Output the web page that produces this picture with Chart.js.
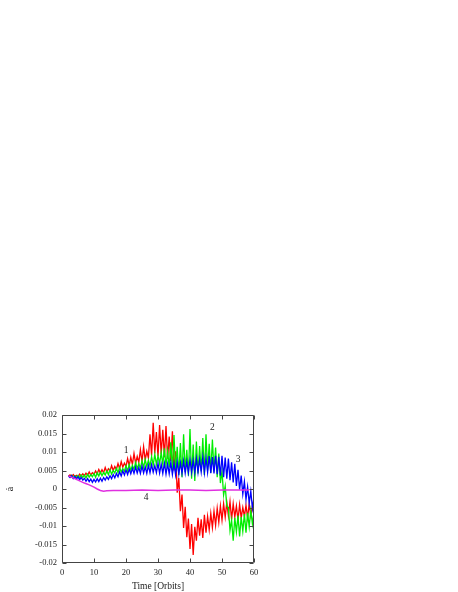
<!DOCTYPE html>
<html>
<head>
<meta charset="utf-8">
<script src="https://cdn.jsdelivr.net/npm/chart.js@4"></script>
<style>
  html, body { margin: 0; padding: 0; background: #fff; }
  #chart { display: block; }
</style>
</head>
<body>
<canvas id="chart" width="458" height="592"></canvas>
<script>
// time in orbits (shared by the three noisy runs)
const times = [
  2,2.5,3,3.5,4,4.5,5,5.5,6,6.5,
  7,7.5,8,8.5,9,9.5,10,10.5,11,11.5,
  12,12.5,13,13.5,14,14.5,15,15.5,16,16.5,
  17,17.5,18,18.5,19,19.5,20,20.5,21,21.5,
  22,22.5,23,23.5,24,24.5,25,25.5,26,26.5,
  27,27.5,28,28.5,29,29.5,30,30.5,31,31.5,
  32,32.5,33,33.5,34,34.5,35,35.5,36,36.5,
  37,37.5,38,38.5,39,39.5,40,40.5,41,41.5,
  42,42.5,43,43.5,44,44.5,45,45.5,46,46.5,
  47,47.5,48,48.5,49,49.5,50,50.5,51,51.5,
  52,52.5,53,53.5,54,54.5,55,55.5,56,56.5,
  57,57.5,58,58.5,59,59.5,60
];

// a-dot values, in units of 1e-3
const run1 = [
  3.5,3.8,3.3,3.9,3.4,3.7,3.2,4.0,3.5,4.1,
  3.6,4.3,3.7,4.6,3.8,4.4,4.0,4.9,4.1,5.3,
  4.3,5.2,4.4,5.8,4.6,5.5,4.9,6.3,5.0,6.1,
  5.3,6.9,5.5,7.4,5.9,7.0,6.1,8.2,6.3,8.6,
  6.6,9.6,6.9,8.8,7.2,10.6,7.4,11.4,7.8,10.2,
  8.4,14.8,9.0,17.9,9.6,15.4,8.8,17.3,9.4,16.0,
  8.6,17.0,8.2,14.2,7.6,15.6,5.0,10.2,-1.0,3.0,
  -6.0,-1.5,-10.5,-4.8,-13.0,-8.0,-16.2,-9.5,-17.8,-10.2,
  -14.0,-7.8,-12.6,-8.2,-13.2,-7.0,-11.8,-7.4,-11.0,-6.6,
  -10.4,-6.0,-9.8,-5.2,-9.0,-4.6,-8.4,-4.0,-7.6,-3.6,
  -7.2,-3.4,-8.2,-4.0,-7.6,-4.6,-8.4,-4.2,-7.8,-5.0,
  -7.4,-4.4,-7.8,-4.0,-7.2,-4.6,-6.6
];
const run2 = [
  3.5,3.2,3.7,3.0,3.6,3.1,3.7,3.0,3.8,3.1,
  3.8,3.0,4.0,3.2,3.9,3.3,4.2,3.2,4.4,3.5,
  4.6,3.6,4.5,3.8,4.9,3.9,5.2,4.0,5.0,4.3,
  5.6,4.4,5.8,4.6,5.5,4.8,6.3,4.9,6.6,5.0,
  6.4,5.3,7.2,5.4,6.9,5.6,7.7,5.8,8.0,6.0,
  7.8,6.2,8.8,6.4,9.4,6.6,9.0,6.8,9.9,6.6,
  11.0,6.3,10.2,5.8,12.6,5.2,14.6,4.6,11.4,3.8,
  12.4,3.2,14.8,4.6,10.6,3.6,16.2,2.8,12.0,2.2,
  12.8,4.2,11.6,4.8,13.8,3.8,14.8,5.0,12.2,4.4,
  13.4,4.8,11.2,3.2,9.6,1.6,4.8,-1.6,0.8,-4.6,
  -5.0,-11.2,-8.4,-14.0,-7.8,-11.6,-7.2,-12.8,-7.6,-11.4,
  -6.8,-11.8,-6.4,-10.2,-5.8,-9.4,-6.2
];
const run3 = [
  3.5,3.1,3.6,2.8,3.4,2.7,3.3,2.5,3.1,2.4,
  2.9,2.1,2.8,2.0,2.7,1.8,2.6,1.9,2.8,2.0,
  2.9,2.1,3.1,2.4,3.3,2.6,3.6,2.8,3.9,3.0,
  4.2,3.3,4.6,3.5,4.9,3.8,5.2,3.9,5.4,4.1,
  5.6,4.2,5.9,4.3,5.8,4.2,6.2,4.3,6.0,4.2,
  6.4,4.4,6.6,4.5,6.3,4.4,6.9,4.3,6.7,4.2,
  7.0,4.0,6.8,4.1,7.2,3.9,6.9,3.8,7.3,4.0,
  7.1,4.2,7.6,4.3,7.4,4.4,7.9,4.5,7.7,4.4,
  8.2,4.5,8.0,4.6,8.6,4.4,8.4,4.5,8.9,4.3,
  8.6,4.2,9.0,4.0,8.7,3.6,9.0,3.2,8.5,2.8,
  8.2,2.4,7.2,1.8,6.8,0.8,5.2,-0.2,3.6,-1.4,
  2.0,-2.8,0.6,-3.8,-0.6,-5.2,-2.2
];
// run 4 is smooth, sampled more sparsely
const run4Times = [2,3,4,5,6,7,8,9,10,11,12,13,14,16,20,25,30,35,40,45,50,55,58.5];
const run4 = [3.5,3.2,2.8,2.4,2.0,1.6,1.3,0.9,0.5,0.0,-0.4,-0.6,-0.5,-0.4,-0.4,-0.3,-0.4,-0.3,-0.3,-0.4,-0.3,-0.3,-0.3];

const xTicks = [0, 10, 20, 30, 40, 50, 60];
const yTicks = [-0.02, -0.015, -0.01, -0.005, 0, 0.005, 0.01, 0.015, 0.02];

// curve numbers written on the plot
const curveLabels = ['1', '2', '3', '4'];
const labelTimes = [20, 47, 55, 26.3];
const labelValues = [10.5, 16.5, 8.1, -2.4];

const MILLI = 1e-3;
const serif = "'Liberation Serif', 'DejaVu Serif', serif";

function pts(ts, vs) {
  return ts.map((t, i) => ({ x: t, y: vs[i] * MILLI }));
}

function line(label, data, color, order, width) {
  return {
    label: label,
    data: data,
    borderColor: color,
    borderWidth: width,
    pointRadius: 0,
    tension: 0,
    fill: false,
    order: order,
  };
}

// gnuplot-style box with inward ticks on all four sides
const frame = {
  id: 'frame',
  afterDatasetsDraw(chart) {
    const { ctx, chartArea: a, scales } = chart;
    const L = Math.round(a.left) + 0.5, R = Math.round(a.right) - 0.5;
    const T = Math.round(a.top) + 0.5, B = Math.round(a.bottom) - 0.5;
    ctx.save();
    ctx.strokeStyle = '#444';
    ctx.lineWidth = 1;
    ctx.beginPath();
    ctx.rect(L, T, R - L, B - T);
    xTicks.forEach(v => {
      const x = Math.round(scales.x.getPixelForValue(v)) + 0.5;
      ctx.moveTo(x, B); ctx.lineTo(x, B - 4);
      ctx.moveTo(x, T); ctx.lineTo(x, T + 4);
    });
    yTicks.forEach(v => {
      const y = Math.round(scales.y.getPixelForValue(v)) + 0.5;
      ctx.moveTo(L, y); ctx.lineTo(L + 4, y);
      ctx.moveTo(R, y); ctx.lineTo(R - 4, y);
    });
    ctx.stroke();

    ctx.fillStyle = '#222';
    ctx.font = '9.5px ' + serif;
    ctx.textAlign = 'center';
    ctx.textBaseline = 'middle';
    curveLabels.forEach((s, i) => {
      ctx.fillText(s, scales.x.getPixelForValue(labelTimes[i]),
        scales.y.getPixelForValue(labelValues[i] * MILLI));
    });
    ctx.restore();
  }
};

new Chart(document.getElementById('chart'), {
  type: 'line',
  data: {
    datasets: [
      line('1', pts(times, run1), '#ff0000', 4, 1.3),
      line('2', pts(times, run2), '#00ee00', 3, 1.3),
      line('3', pts(times, run3), '#0000ff', 2, 1.3),
      line('4', pts(run4Times, run4), '#e030e0', 1, 1.5),
    ],
  },
  options: {
    responsive: false,
    animation: false,
    events: [],
    layout: { padding: { top: 415, right: 204, bottom: 0, left: 0 } },
    plugins: { legend: { display: false }, tooltip: { enabled: false } },
    scales: {
      x: {
        type: 'linear',
        min: 0,
        max: 60,
        afterBuildTicks: s => { s.ticks = xTicks.map(v => ({ value: v })); },
        afterFit: s => { s.height = 29; },
        grid: { display: false, drawTicks: false },
        border: { display: false },
        ticks: { color: '#222', font: { family: serif, size: 8.5 }, padding: 5, maxRotation: 0 },
        title: { display: true, text: 'Time [Orbits]', color: '#222',
                 font: { family: serif, size: 9.5 }, padding: { top: 0, bottom: 0 } },
      },
      y: {
        min: -0.02,
        max: 0.02,
        afterBuildTicks: s => { s.ticks = yTicks.map(v => ({ value: v })); },
        afterFit: s => { s.width = 62; },
        grid: { display: false, drawTicks: false },
        border: { display: false },
        ticks: { color: '#222', font: { family: serif, size: 8.5 }, padding: 5,
                 callback: v => String(Math.round(v * 1000) / 1000) },
        title: { display: true, text: 'ȧ', color: '#222',
                 font: { family: serif, size: 10 }, padding: { top: 4, bottom: 0 } },
      },
    },
  },
  plugins: [frame],
});
</script>
</body>
</html>
